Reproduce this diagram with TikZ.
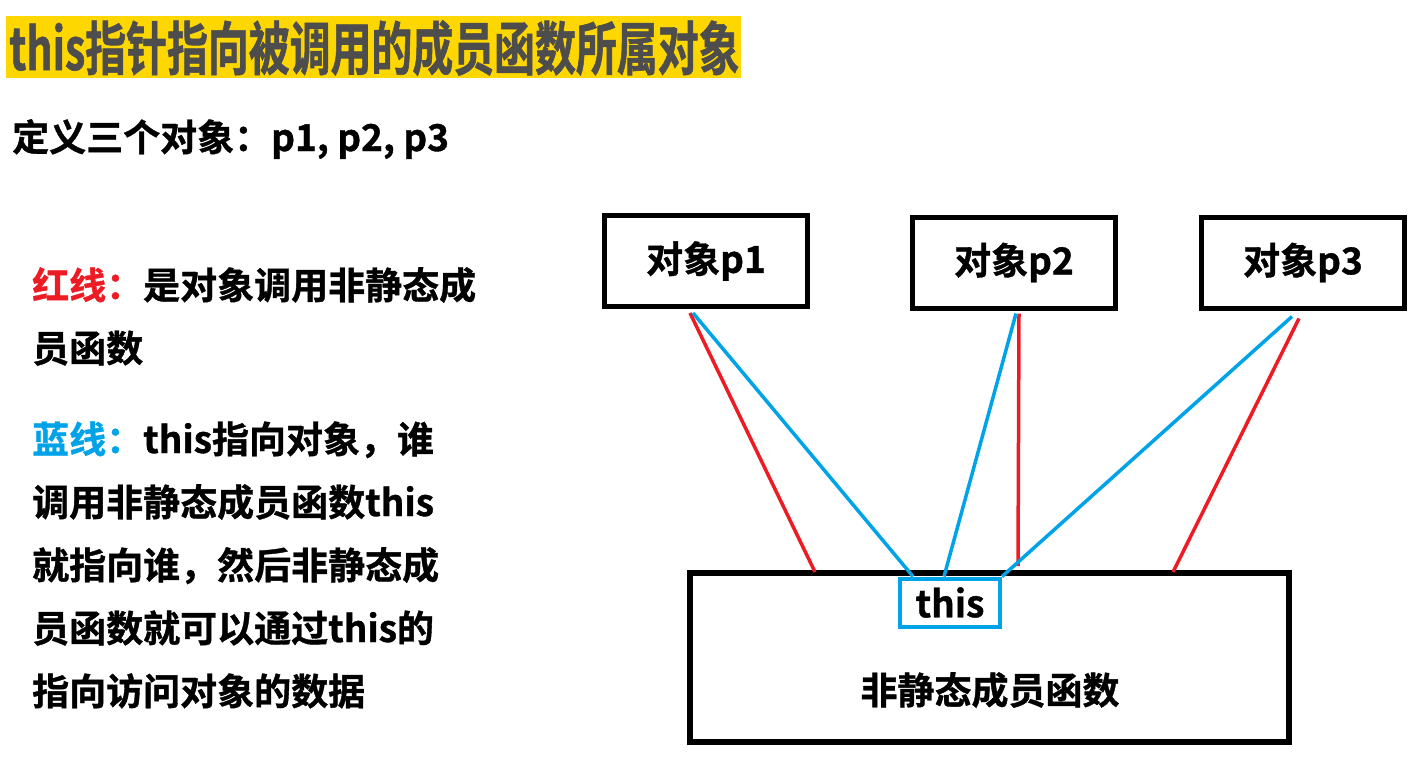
\documentclass[tikz,border=0pt]{standalone}
\usepackage{fontspec}
\setmainfont{Noto Sans CJK SC}[BoldFont={Noto Sans CJK SC Bold}, BoldFeatures={FakeBold=1}]
\newfontfamily\titlefont{Noto Sans CJK SC Bold}[FakeStretch=0.705, FakeBold=1]
\usetikzlibrary{calc}
\definecolor{paintred}{RGB}{237,28,36}
\definecolor{paintblue}{RGB}{0,162,232}
\definecolor{titleyellow}{RGB}{255,215,0}
\definecolor{titlegray}{RGB}{77,77,77}

\begin{document}
\begin{tikzpicture}[x=1pt, y=-1pt,
  every node/.style={font=\bfseries\fontsize{37}{63}\selectfont, inner sep=0pt},
  objbox/.style={draw, line width=5pt, minimum width=203pt, minimum height=91pt},
  redline/.style={paintred, line width=3.5pt},
  blueline/.style={paintblue, line width=3.5pt}]
\useasboundingbox (0,0) rectangle (1419,777);
% title
\fill[titleyellow] (6,16) rectangle (741,78);
\node[anchor=base west, font=\titlefont\fontsize{58}{64}\selectfont, text=titlegray] (title) at (9,70) {this指针指向被调用的成员函数所属对象};
\node[anchor=base west] (defs) at (12,151) {定义三个对象：p1, p2, p3};
% explanation (anchor is the baseline of the last line)
\node[anchor=base west, align=left] (redtext) at (32,362) {\textcolor{paintred}{红线：}是对象调用非静态成\\员函数};
\node[anchor=base west, align=left] (bluetext) at (32,705) {\textcolor{paintblue}{蓝线：}this指向对象，谁\\调用非静态成员函数this\\就指向谁，然后非静态成\\员函数就可以通过this的\\指向访问对象的数据};
% objects
\node[objbox] (p1) at (706,261) {对象p1};
\node[objbox] (p2) at (1014,262.5) {对象p2};
\node[objbox] (p3) at (1303,262.5) {对象p3};
% member function
\node[draw, line width=6pt, minimum width=599pt, minimum height=169pt] (func) at (989.5,657.5) {};
\node (funcname) at (990,690) {非静态成员函数};
\node[draw=paintblue, line width=4pt, minimum width=100pt, minimum height=48pt] (thisbox) at (950,602.5) {this};
% red lines: object calls the function
\draw[redline] ($(p1.south)+(-16,4)$) -- ($(func.north)+(-174.5,2)$);
\draw[redline] ($(p2.south)+(5,3)$) -- ($(func.north)+(28.5,-4)$);
\draw[redline] ($(p3.south)+(-4,8)$) -- ($(func.north)+(183.5,2)$);
% blue lines: this points to the object
\draw[blueline] ($(p1.south)+(-13,4)$) -- ($(thisbox.north west)+(15,0)$);
\draw[blueline] ($(p2.south)+(2,3)$) -- ($(thisbox.north)+(-6,0)$);
\draw[blueline] ($(p3.south)+(-11,6)$) -- (thisbox.north east);
\end{tikzpicture}
\end{document}
